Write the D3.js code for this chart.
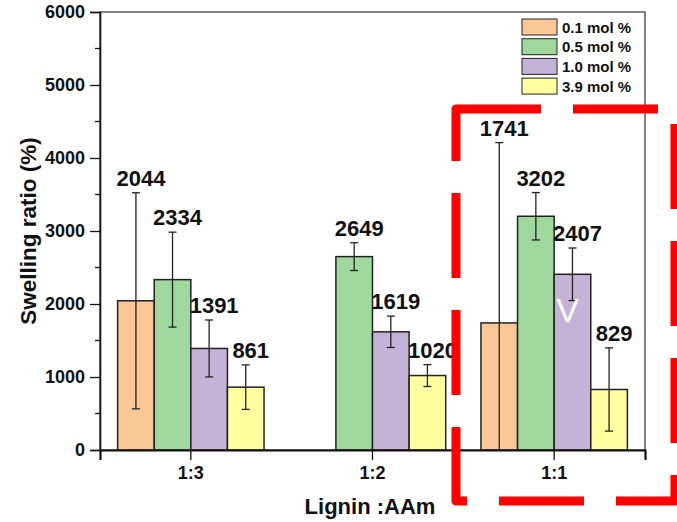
<!DOCTYPE html>
<html>
<head>
<meta charset="utf-8">
<script src="https://cdn.jsdelivr.net/npm/d3@7"></script>
<style>
  html, body { margin: 0; padding: 0; background: #fff; }
  svg { display: block; font-family: Arial, "Liberation Sans", sans-serif; }
</style>
</head>
<body>
<svg id="chart" width="677" height="522"></svg>
<script>
// ---- data ----
const categories = ["1:3", "1:2", "1:1"];
const seriesNames = ["0.1 mol %", "0.5 mol %", "1.0 mol %", "3.9 mol %"];
const s01 = [2044, null, 1741];
const s05 = [2334, 2649, 3202];
const s10 = [1391, 1619, 2407];
const s39 = [861, 1020, 829];
const e01 = [1480, null, 2470];
const e05 = [650, 190, 325];
const e10 = [390, 215, 360];
const e39 = [305, 150, 570];
const yTicks = [0, 1000, 2000, 3000, 4000, 5000, 6000];
const colors = ["#FAC896", "#9ED89C", "#C4B3D7", "#FFFFA0"];

const values = [s01, s05, s10, s39];
const errors = [e01, e05, e10, e39];

const svg = d3.select("#chart");
const mLeft = 100, mRight = 645, mTop = 12, mBottom = 450;

const x = d3.scaleBand().domain(categories).range([mLeft, mRight]).padding(0);
const xs = d3.scaleBand().domain(seriesNames)
  .range([x.bandwidth() * 0.097, x.bandwidth() * 0.903]).padding(0);
const y = d3.scaleLinear().domain([0, 6000]).range([mBottom, mTop]);

// frame (top/right)
svg.append("rect").attr("x", mLeft).attr("y", mTop)
  .attr("width", mRight - mLeft).attr("height", mBottom - mTop)
  .attr("fill", "none").attr("stroke", "#333").attr("stroke-width", 1.2);

// bars
const flat = [];
values.forEach((arr, si) => arr.forEach((v, ci) => {
  if (v != null) flat.push({ s: si, c: ci, v: v, e: errors[si][ci] });
}));

const g = svg.append("g");
g.selectAll("rect.bar").data(flat).enter().append("rect")
  .attr("class", "bar")
  .attr("x", d => x(categories[d.c]) + xs(seriesNames[d.s]))
  .attr("y", d => y(d.v))
  .attr("width", xs.bandwidth())
  .attr("height", d => y(0) - y(d.v))
  .attr("fill", d => colors[d.s])
  .attr("stroke", "#222").attr("stroke-width", 1.5);

// error bars
const cx = d => x(categories[d.c]) + xs(seriesNames[d.s]) + xs.bandwidth() / 2;
const eb = g.selectAll("g.eb").data(flat).enter().append("g").attr("class", "eb");
eb.append("line")
  .attr("x1", cx).attr("x2", cx)
  .attr("y1", d => y(d.v + d.e))
  .attr("y2", d => y(Math.max(0, d.v - d.e)))
  .attr("stroke", "#222").attr("stroke-width", 1.3);
eb.append("line")
  .attr("x1", d => cx(d) - 4).attr("x2", d => cx(d) + 4)
  .attr("y1", d => y(d.v + d.e)).attr("y2", d => y(d.v + d.e))
  .attr("stroke", "#222").attr("stroke-width", 1.3);
eb.filter(d => d.v - d.e > 0).append("line")
  .attr("x1", d => cx(d) - 4).attr("x2", d => cx(d) + 4)
  .attr("y1", d => y(d.v - d.e)).attr("y2", d => y(d.v - d.e))
  .attr("stroke", "#222").attr("stroke-width", 1.3);

// value labels
g.selectAll("text.val").data(flat).enter().append("text")
  .attr("class", "val")
  .attr("x", d => cx(d) + 5)
  .attr("y", d => y(d.v + d.e) - 7)
  .attr("text-anchor", "middle")
  .attr("font-size", 22).attr("font-weight", "bold").attr("fill", "#111")
  .text(d => d.v);

// white V on 1.0 mol% bar of 1:1
svg.append("text")
  .attr("x", x("1:1") + xs("1.0 mol %") + xs.bandwidth() / 2 - 5)
  .attr("y", y(1760))
  .attr("text-anchor", "middle")
  .attr("font-size", 34).attr("fill", "#fff")
  .text("V");

// y axis
const yAxis = d3.axisLeft(y).tickValues(yTicks).tickSize(10).tickPadding(5)
  .tickFormat(d3.format("d"));
const ya = svg.append("g").attr("transform", `translate(${mLeft},0)`).call(yAxis);
ya.select(".domain").attr("stroke", "#111").attr("stroke-width", 1.6);
ya.selectAll(".tick line").attr("stroke", "#111").attr("stroke-width", 1.3);
ya.selectAll(".tick text").attr("font-size", 18).attr("font-weight", "bold")
  .attr("fill", "#111").attr("font-family", "Arial, 'Liberation Sans', sans-serif");
// minor ticks
const minor = d3.range(500, 6000, 1000);
svg.append("g").selectAll("line").data(minor).enter().append("line")
  .attr("x1", mLeft - 5).attr("x2", mLeft)
  .attr("y1", d => y(d)).attr("y2", d => y(d))
  .attr("stroke", "#111").attr("stroke-width", 1.3);

// x axis
const xAxis = d3.axisBottom(x).tickSize(10).tickPadding(6);
const xa = svg.append("g").attr("transform", `translate(0,${mBottom})`).call(xAxis);
xa.select(".domain").attr("stroke", "#111").attr("stroke-width", 2.2);
xa.selectAll(".tick line").attr("stroke", "#111").attr("stroke-width", 1.3);
xa.selectAll(".tick text").attr("font-size", 18).attr("font-weight", "bold")
  .attr("fill", "#111").attr("font-family", "Arial, 'Liberation Sans', sans-serif");

// axis titles
svg.append("text")
  .attr("transform", "translate(36,231) rotate(-90)")
  .attr("text-anchor", "middle")
  .attr("font-size", 22.5).attr("font-weight", "bold").attr("fill", "#111")
  .text("Swelling ratio (%)");
svg.append("text")
  .attr("x", 370).attr("y", 514)
  .attr("text-anchor", "middle")
  .attr("font-size", 22).attr("font-weight", "bold").attr("fill", "#111")
  .text("Lignin :AAm");

// legend
const lg = svg.append("g").attr("transform", "translate(522,19)");
const li = lg.selectAll("g").data(seriesNames).enter().append("g")
  .attr("transform", (d, i) => `translate(0,${i * 19.7})`);
li.append("rect").attr("width", 35).attr("height", 16)
  .attr("fill", (d, i) => colors[i]).attr("stroke", "#222").attr("stroke-width", 1);
li.append("text").attr("x", 40).attr("y", 13.5)
  .attr("font-size", 15).attr("font-weight", "bold").attr("fill", "#111")
  .text(d => d);

// red dashed annotation box
svg.append("path")
  .attr("d", "M456,109 L675,109 L675,501 L456,501 Z")
  .attr("fill", "none").attr("stroke", "#FF0000").attr("stroke-width", 9)
  .attr("stroke-dasharray", "85,32").attr("stroke-linejoin", "round");
</script>
</body>
</html>
